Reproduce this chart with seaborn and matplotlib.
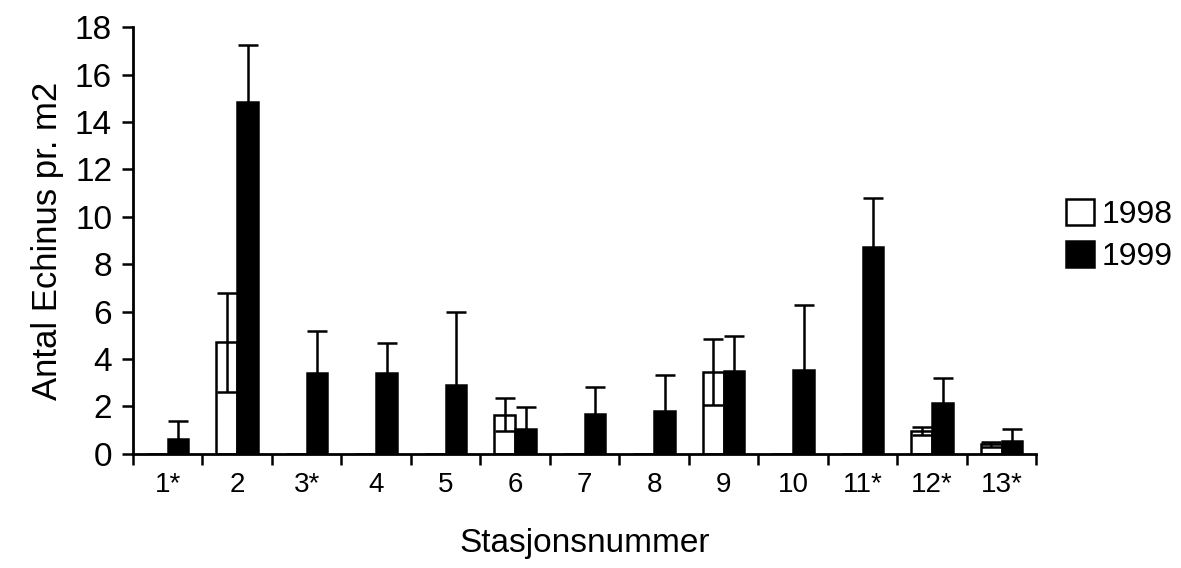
import matplotlib
matplotlib.use("Agg")
import matplotlib.pyplot as plt
import seaborn as sns
import pandas as pd
import numpy as np
from matplotlib.patches import Patch

stations = ["1*", "2", "3*", "4", "5", "6", "7", "8", "9", "10", "11*", "12*", "13*"]
mean_1998 = [0, 4.7, 0, 0, 0, 1.65, 0, 0, 3.45, 0, 0, 0.95, 0.4]
err_1998 = [0, 2.1, 0, 0, 0, 0.7, 0, 0, 1.4, 0, 0, 0.17, 0.1]
mean_1999 = [0.63, 14.83, 3.42, 3.42, 2.9, 1.05, 1.69, 1.82, 3.5, 3.54, 8.73, 2.15, 0.55]
err_1999 = [0.76, 2.41, 1.78, 1.27, 3.1, 0.93, 1.14, 1.52, 1.48, 2.75, 2.07, 1.05, 0.5]
years = ["1998", "1999"]

df = pd.DataFrame({
    "Stasjon": stations * 2,
    "År": [years[0]] * len(stations) + [years[1]] * len(stations),
    "Antal": mean_1998 + mean_1999,
    "Err": err_1998 + err_1999,
})

sns.set_style("white")
plt.rcParams["font.family"] = ["Liberation Sans", "DejaVu Sans"]
plt.rcParams["text.color"] = "black"
plt.rcParams["axes.labelcolor"] = "black"
plt.rcParams["xtick.color"] = "black"
plt.rcParams["ytick.color"] = "black"

fig = plt.figure(figsize=(11.81, 5.68), dpi=100)
ax = fig.add_axes([0.1125, 0.201, 0.765, 0.751])

sns.barplot(data=df, x="Stasjon", y="Antal", hue="År", order=stations,
            hue_order=years, palette={"1998": "white", "1999": "black"},
            edgecolor="black", linewidth=1.8, width=0.6, errorbar=None,
            legend=False, ax=ax)

# error bars from the bar patches' positions
bars = [p for p in ax.patches]
n = len(stations)
for i, p in enumerate(bars[:2 * n]):
    yr = 0 if i < n else 1
    idx = i % n
    m = (mean_1998 if yr == 0 else mean_1999)[idx]
    e = (err_1998 if yr == 0 else err_1999)[idx]
    if e <= 0:
        continue
    cx = p.get_x() + p.get_width() / 2
    ax.errorbar(cx, m, yerr=e, fmt="none", ecolor="black", elinewidth=1.8,
                capsize=7.5, capthick=1.8, zorder=5)

ax.set_xlim(-0.5, n - 0.5)
ax.set_ylim(0, 18)
ax.set_yticks(np.arange(0, 19, 2))
ax.tick_params(axis="y", labelsize=24, length=8, width=1.8, direction="out",
               left=True, pad=7)
# x: tick marks at category boundaries, labels at centres without marks
ax.set_xticks(np.arange(n))
ax.set_xticklabels(stations)
ax.tick_params(axis="x", which="major", length=0, labelsize=20, pad=13)
ax.set_xticks(np.arange(-0.5, n, 1.0), minor=True)
ax.tick_params(axis="x", which="minor", length=8, width=1.8, direction="out",
               bottom=True)

for s in ["top", "right"]:
    ax.spines[s].set_visible(False)
for s in ["left", "bottom"]:
    ax.spines[s].set_linewidth(2)
    ax.spines[s].set_color("black")

ax.set_xlabel("Stasjonsnummer", fontsize=24, labelpad=22)
ax.set_ylabel("Antal Echinus pr. m2", fontsize=25, labelpad=8)

handles = [Patch(facecolor="white", edgecolor="black", linewidth=1.8, label="1998"),
           Patch(facecolor="black", edgecolor="black", linewidth=1.8, label="1999")]
fig.legend(handles=handles, loc="center left", bbox_to_anchor=(0.903, 0.585),
           frameon=False, fontsize=23, handlelength=0.85, handleheight=0.85,
           handletextpad=0.25, labelspacing=0.35, borderaxespad=0, borderpad=0)

fig.savefig("out.png", dpi=100)
